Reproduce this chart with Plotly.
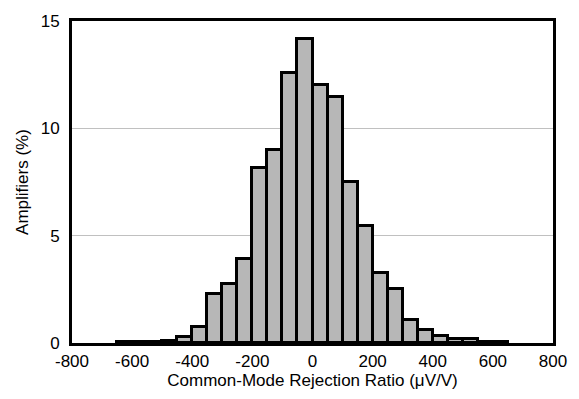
import plotly.graph_objects as go

# Bin left edges (µV/V) and bin width
bin_lefts = [-650, -600, -550, -500, -450, -400, -350, -300, -250, -200, -150, -100, -50,
             0, 50, 100, 150, 200, 250, 300, 350, 400, 450, 500, 550, 600]
bin_width = 50
# Percentage of amplifiers in each bin
percent = [0.04, 0.04, 0.05, 0.10, 0.28, 0.74, 2.26, 2.76, 3.90, 8.14, 9.01, 12.59, 14.17,
           12.02, 11.44, 7.52, 5.43, 3.26, 2.51, 1.06, 0.59, 0.32, 0.17, 0.17, 0.04, 0.04]

x_ticks = [-800, -600, -400, -200, 0, 200, 400, 600, 800]
y_ticks = [0, 5, 10, 15]

centers = [b + bin_width / 2 for b in bin_lefts]

fig = go.Figure(go.Bar(
    x=centers, y=percent, width=[bin_width] * len(centers),
    marker=dict(color="#b7b7b7", line=dict(color="black", width=3)),
))

font_family = "Liberation Sans, Arial, sans-serif"
fig.update_layout(
    width=579, height=399,
    margin=dict(l=72, r=24, t=15, b=56),
    paper_bgcolor="white", plot_bgcolor="white",
    bargap=0, showlegend=False,
    font=dict(family=font_family, size=17, color="black"),
)
fig.update_xaxes(
    range=[-800, 800], tickvals=x_ticks, ticktext=[str(v) for v in x_ticks],
    showgrid=False, zeroline=False,
    showline=True, linecolor="black", linewidth=3, mirror=True,
    ticks="", ticklabelstandoff=1,
    title=dict(text="Common-Mode Rejection Ratio (μV/V)", standoff=0, font=dict(size=17)),
)
fig.update_yaxes(
    range=[0, 15], tickvals=y_ticks, ticktext=[str(v) for v in y_ticks],
    showgrid=True, gridcolor="#c0c0c0", gridwidth=1, zeroline=False,
    showline=True, linecolor="black", linewidth=3, mirror=True,
    ticks="", ticklabelstandoff=6,
    title=dict(text="Amplifiers (%)", standoff=8, font=dict(size=17)),
)

fig.write_html("out.html")
